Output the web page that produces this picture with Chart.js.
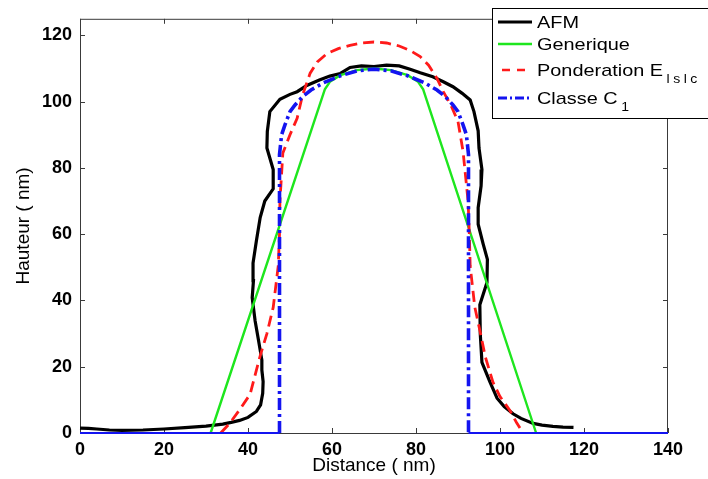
<!DOCTYPE html>
<html><head><meta charset="utf-8">
<script src="https://cdn.jsdelivr.net/npm/chart.js@4/dist/chart.umd.min.js"></script>
<style>html,body{margin:0;padding:0;background:#fff;overflow:hidden}canvas{display:block}</style>
</head><body>
<canvas id="c" width="708" height="479"></canvas>
<script>
const xTicks = [0, 20, 40, 60, 80, 100, 120, 140];
const yTicks = [0, 20, 40, 60, 80, 100, 120];
const seriesNames = ['AFM', 'Generique', 'Ponderation E', 'Classe C'];
const seriesSubs = ['', '', 'lslc', '1'];

const afmX = [0,2,4,7,10,15,20,25,30,34,36,38,40,42,43,43.5,43.6,43.3,43.3,42.5,41.7,41,41.3,41.2,42,42.9,44,46,46,44.5,44.6,45.2,47.6,50,51.7,54,57,59.5,62,64.3,67,70,73,76,78.6,81,84,86.5,88.8,91,92.9,93.8,94.8,95,95.7,95.5,94.8,94.8,96,97,96.9,95.2,95.3,95.7,97.6,99.3,101,103.1,105,107.9,110,112.6,115,117.5];
const afmY = [1.5,1.4,1.2,0.9,0.8,0.9,1.2,1.6,2.1,2.7,3.2,3.8,4.7,6.5,8.5,12,15.5,19,22,28,33.8,40.8,46,51.3,58,65,70,73.7,79.5,86,91,97,100.7,102.2,103,104.9,106.5,107.7,108.5,110.3,110.8,110.6,111,110.8,109.8,108.7,107.5,106,104.5,102.5,100.5,97,91.2,86,79.5,74.6,68,63,57,52.4,45.4,38.7,30,21.3,15.4,10.5,8,5.8,4.4,2.9,2.4,2,1.8,1.7];

const genX = [31.1,58.3,59.5,62,66,70,74,78,80.5,81.7,108.6];
const genY = [0,103.7,106,108,109.5,110,109.5,108,106,103.7,0];

const ponX = [33.5,35.7,38,40.5,42.9,44.5,46,47.2,47.5,47.6,48.3,50,51.7,53,54.8,56.5,58.8,61.5,64.3,67,70,73,76,78.5,81,83,85,86.5,88.3,90,91.2,92.4,92.7,92.9,94,95.2,96.5,98.3,100,102.4,104,105.5];
const ponY = [0,3,7,11.7,23.3,30,37.9,50.4,60,70,84.5,90,95,102,108.6,112,114.5,116,117,117.7,118,117.7,116.8,115.5,113.6,111,107,103,99,94,85,70,60,50.4,38,31,23,15.4,11,6.7,3,0];

const claX = [0,47.5,47.5,48,48.8,50,51.2,53,55,58,62,66,70,74,78,82,85,87,88.8,90,91.2,92,92.5,92.5,140];
const claY = [0,0,84,90,93,97,99,101.5,103.5,105.7,107.8,109.3,109.8,109.3,107.8,105.7,103.5,101.5,99,97,93,90,84,0,0];

const pts = (xs, ys) => xs.map((x, i) => ({x: x, y: ys[i]}));
const FONT = '"Liberation Sans", Arial, Helvetica, sans-serif';

const framePlugin = {
  id: 'frame',
  beforeDatasetsDraw(chart) {
    const {ctx, chartArea: a, scales} = chart;
    ctx.save();
    ctx.strokeStyle = '#3a3a3a';
    ctx.lineWidth = 1;
    ctx.strokeRect(a.left + 0.5, a.top + 0.5, a.right - a.left - 1, a.bottom - a.top);
    ctx.beginPath();
    scales.x.ticks.forEach(t => {
      const px = Math.round(scales.x.getPixelForValue(t.value)) + 0.5;
      ctx.moveTo(px, a.bottom); ctx.lineTo(px, a.bottom - 5);
      ctx.moveTo(px, a.top); ctx.lineTo(px, a.top + 5);
    });
    scales.y.ticks.forEach(t => {
      const py = Math.round(scales.y.getPixelForValue(t.value)) + 0.5;
      ctx.moveTo(a.left, py); ctx.lineTo(a.left + 5, py);
      ctx.moveTo(a.right, py); ctx.lineTo(a.right - 5, py);
    });
    ctx.stroke();
    ctx.restore();
  }
};

const legendPlugin = {
  id: 'mlegend',
  afterDraw(chart) {
    const ctx = chart.ctx;
    ctx.save();
    ctx.fillStyle = '#fff';
    ctx.fillRect(492, 8, 230, 110);
    ctx.strokeStyle = '#000';
    ctx.lineWidth = 1;
    ctx.strokeRect(492.5, 8.5, 230, 110);
    const rows = [22, 44, 70, 98];
    const ds = chart.data.datasets;
    rows.forEach((yy, i) => {
      const d = ds[i];
      ctx.beginPath();
      ctx.strokeStyle = d.borderColor;
      ctx.lineWidth = i === 0 ? 3 : (i === 3 ? 3 : 2.5);
      ctx.setLineDash(d.legendDash || []);
      ctx.moveTo(i === 2 ? 502 : 498, yy); ctx.lineTo(532, yy);
      ctx.stroke();
      ctx.setLineDash([]);
      ctx.fillStyle = '#000';
      ctx.textBaseline = 'middle';
      ctx.save();
      ctx.translate(537, yy);
      ctx.scale(1.17, 1);
      ctx.font = '17px ' + FONT;
      ctx.fillText(seriesNames[i], 0, 1);
      const w = ctx.measureText(seriesNames[i]).width;
      if (seriesSubs[i]) {
        ctx.font = '12px ' + FONT;
        let sx = w + 3;
        for (const ch of seriesSubs[i]) {
          ctx.fillText(ch, sx, 10);
          sx += ctx.measureText(ch).width + 3;
        }
      }
      ctx.restore();
    });
    ctx.restore();
  }
};

new Chart(document.getElementById('c'), {
  type: 'scatter',
  data: {
    datasets: [
      { label: 'AFM', data: pts(afmX, afmY), showLine: true, borderColor: '#000000', borderWidth: 3.2, pointRadius: 0, order: 4, legendDash: [] },
      { label: 'Generique', data: pts(genX, genY), showLine: true, borderColor: '#1ee61e', borderWidth: 2.4, pointRadius: 0, order: 3, legendDash: [] },
      { label: 'Ponderation E lslc', data: pts(ponX, ponY), showLine: true, borderColor: '#ff1a1a', borderWidth: 2.8, borderDash: [11, 6], pointRadius: 0, order: 2, legendDash: [8, 7] },
      { label: 'Classe C1', data: pts(claX, claY), showLine: true, borderColor: '#1414f0', borderWidth: 3.6, borderDash: [12, 4, 3, 4], pointRadius: 0, order: 1, legendDash: [9, 3, 2, 3],
        segment: {
          borderDash: c => (c.p0.parsed.y === 0 && c.p1.parsed.y === 0) ? [] : [12, 4, 3, 4],
          borderWidth: c => (c.p0.parsed.y === 0 && c.p1.parsed.y === 0) ? 2 : 3.6
        } }
    ]
  },
  options: {
    responsive: false,
    animation: false,
    devicePixelRatio: 1,
    clip: 4,
    layout: { padding: { top: 5, right: 40, left: 0, bottom: 0 } },
    plugins: { legend: { display: false }, tooltip: { enabled: false } },
    scales: {
      x: {
        type: 'linear', min: 0, max: 140, position: 'bottom',
        afterBuildTicks: s => { s.ticks = xTicks.map(v => ({ value: v })); },
        afterFit: s => { s.height = 46; },
        grid: { display: false, drawTicks: false }, border: { display: false },
        ticks: { color: '#000', font: { family: FONT, size: 18, weight: 'bold' }, padding: 6, maxRotation: 0, autoSkip: false },
        title: { display: true, text: 'Distance ( nm)', color: '#000', font: { family: FONT, size: 19 }, padding: { top: 0, bottom: 2 } }
      },
      y: {
        type: 'linear', min: 0, max: 125,
        afterBuildTicks: s => { s.ticks = yTicks.map(v => ({ value: v })); },
        afterFit: s => { s.width = 80; },
        grid: { display: false, drawTicks: false }, border: { display: false },
        ticks: { color: '#000', font: { family: FONT, size: 18, weight: 'bold' }, padding: 8, autoSkip: false },
        title: { display: true, text: 'Hauteur ( nm)', color: '#000', font: { family: FONT, size: 19 }, padding: { top: 12, bottom: 0 } }
      }
    }
  },
  plugins: [framePlugin, legendPlugin]
});
</script>
</body></html>
